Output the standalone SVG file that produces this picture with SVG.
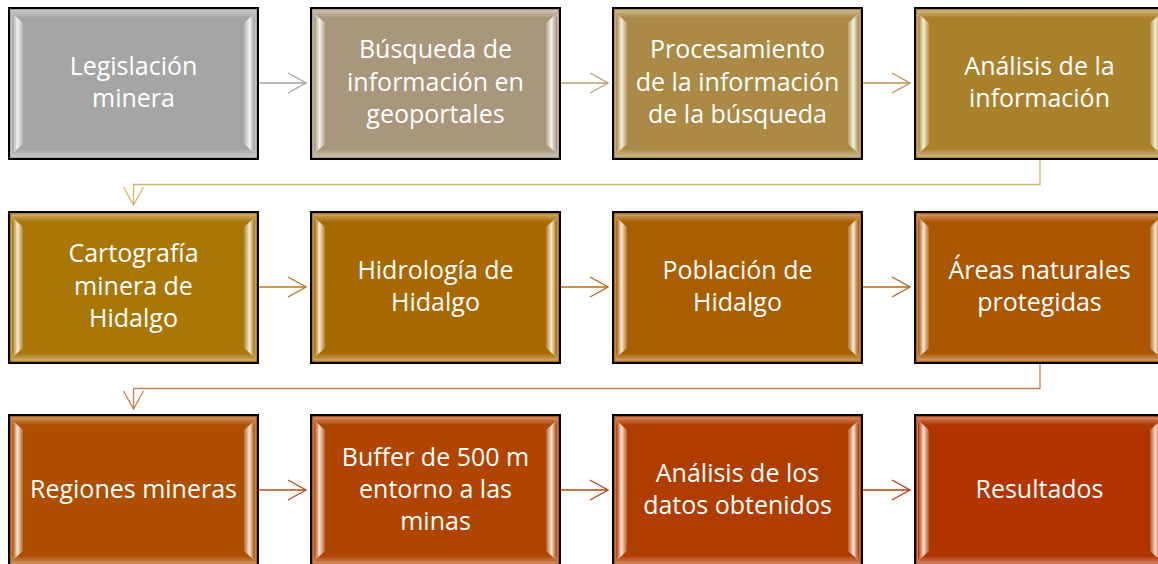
<svg xmlns="http://www.w3.org/2000/svg" xmlns:xlink="http://www.w3.org/1999/xlink" width="1158" height="564" viewBox="0 0 1158 564">
<style>
.lbl{font-family:"Open Sans","Liberation Sans",sans-serif;font-size:25px;fill:#ffffff;text-anchor:middle}
.con{fill:none;stroke-width:1.3}
</style>
<defs>
<linearGradient id="gl" x1="0" y1="0" x2="1" y2="0">
<stop offset="0" stop-color="#fff" stop-opacity="0.1"/>
<stop offset="0.45" stop-color="#fff" stop-opacity="0.85"/>
<stop offset="1" stop-color="#fff" stop-opacity="0.15"/>
</linearGradient>
<linearGradient id="gr" x1="1" y1="0" x2="0" y2="0">
<stop offset="0" stop-color="#fff" stop-opacity="0.1"/>
<stop offset="0.45" stop-color="#fff" stop-opacity="0.85"/>
<stop offset="1" stop-color="#fff" stop-opacity="0.15"/>
</linearGradient>
<linearGradient id="gt" x1="0" y1="0" x2="0" y2="1">
<stop offset="0" stop-color="#fff" stop-opacity="0.35"/>
<stop offset="1" stop-color="#fff" stop-opacity="0"/>
</linearGradient>
<linearGradient id="gb" x1="0" y1="1" x2="0" y2="0">
<stop offset="0" stop-color="#fff" stop-opacity="0.35"/>
<stop offset="1" stop-color="#fff" stop-opacity="0"/>
</linearGradient>
<g id="bevel">
<rect x="3" y="3" width="243" height="7" fill="url(#gt)"/>
<rect x="3" y="141" width="243" height="7" fill="url(#gb)"/>
<polygon points="4,6 14,15 14,136 4,145" fill="url(#gl)"/>
<polygon points="245,6 235,15 235,136 245,145" fill="url(#gr)"/>
<rect x="2.5" y="2.5" width="244" height="146" fill="none" stroke="#fff" stroke-opacity="0.3" stroke-width="1.5"/>
<rect x="0" y="0" width="249" height="151" fill="none" stroke="#000" stroke-width="2"/>
</g>
<marker id="ah" viewBox="0 0 20 22" refX="19" refY="11" markerWidth="20" markerHeight="22" markerUnits="userSpaceOnUse" orient="auto">
<path d="M1,1 L19,11 L1,21" fill="none" stroke="context-stroke" stroke-width="1.3"/>
</marker>
</defs>

<g id="connectors">
<path class="con" d="M258,83 H306" stroke="#A5A5A5" marker-end="url(#ah)"/>
<path class="con" d="M561,83 H608" stroke="#B5A27E" marker-end="url(#ah)"/>
<path class="con" d="M862,83 H910" stroke="#B8904A" marker-end="url(#ah)"/>
<path class="con" d="M1040,159 V184.5 H133.5 V205" stroke="#D6B470" marker-end="url(#ah)"/>
<path class="con" d="M258,287 H306" stroke="#B57820" marker-end="url(#ah)"/>
<path class="con" d="M561,287 H608" stroke="#B36C1A" marker-end="url(#ah)"/>
<path class="con" d="M862,287 H910" stroke="#B5661E" marker-end="url(#ah)"/>
<path class="con" d="M1040,363 V388.5 H133.5 V409" stroke="#C88050" marker-end="url(#ah)"/>
<path class="con" d="M258,490 H306" stroke="#B54E14" marker-end="url(#ah)"/>
<path class="con" d="M561,490 H608" stroke="#B44612" marker-end="url(#ah)"/>
<path class="con" d="M862,490 H910" stroke="#B43E10" marker-end="url(#ah)"/>
</g>

<g id="n1" transform="translate(9,8)"><rect width="249" height="151" fill="#A5A5A5"/><use xlink:href="#bevel"/>
<text class="lbl" x="124.5" y="67">Legislación</text><text class="lbl" x="124.5" y="99">minera</text></g>
<g id="n2" transform="translate(311,8)"><rect width="249" height="151" fill="#A8977A"/><use xlink:href="#bevel"/>
<text class="lbl" x="124.5" y="50">Búsqueda de</text><text class="lbl" x="124.5" y="83">información en</text><text class="lbl" x="124.5" y="115">geoportales</text></g>
<g id="n3" transform="translate(613,8)"><rect width="249" height="151" fill="#AB8A45"/><use xlink:href="#bevel"/>
<text class="lbl" x="124.5" y="50">Procesamiento</text><text class="lbl" x="124.5" y="83">de la información</text><text class="lbl" x="124.5" y="115">de la búsqueda</text></g>
<g id="n4" transform="translate(915,8)"><rect width="249" height="151" fill="#AA812B"/><use xlink:href="#bevel"/>
<text class="lbl" x="124.5" y="67">Análisis de la</text><text class="lbl" x="124.5" y="99">información</text></g>

<g id="n5" transform="translate(9,212)"><rect width="249" height="151" fill="#A97608"/><use xlink:href="#bevel"/>
<text class="lbl" x="124.5" y="50">Cartografía</text><text class="lbl" x="124.5" y="83">minera de</text><text class="lbl" x="124.5" y="115">Hidalgo</text></g>
<g id="n6" transform="translate(311,212)"><rect width="249" height="151" fill="#AA6900"/><use xlink:href="#bevel"/>
<text class="lbl" x="124.5" y="67">Hidrología de</text><text class="lbl" x="124.5" y="99">Hidalgo</text></g>
<g id="n7" transform="translate(613,212)"><rect width="249" height="151" fill="#A95E00"/><use xlink:href="#bevel"/>
<text class="lbl" x="124.5" y="67">Población de</text><text class="lbl" x="124.5" y="99">Hidalgo</text></g>
<g id="n8" transform="translate(915,212)"><rect width="249" height="151" fill="#AB5600"/><use xlink:href="#bevel"/>
<text class="lbl" x="124.5" y="67">Áreas naturales</text><text class="lbl" x="124.5" y="99">protegidas</text></g>

<g id="n9" transform="translate(9,415)"><rect width="249" height="151" fill="#AE4F00"/><use xlink:href="#bevel"/>
<text class="lbl" x="124.5" y="83">Regiones mineras</text></g>
<g id="n10" transform="translate(311,415)"><rect width="249" height="151" fill="#AF4500"/><use xlink:href="#bevel"/>
<text class="lbl" x="124.5" y="51">Buffer de 500 m</text><text class="lbl" x="124.5" y="83">entorno a las</text><text class="lbl" x="124.5" y="115">minas</text></g>
<g id="n11" transform="translate(613,415)"><rect width="249" height="151" fill="#B03D00"/><use xlink:href="#bevel"/>
<text class="lbl" x="124.5" y="67">Análisis de los</text><text class="lbl" x="124.5" y="99">datos obtenidos</text></g>
<g id="n12" transform="translate(915,415)"><rect width="249" height="151" fill="#B23500"/><use xlink:href="#bevel"/>
<text class="lbl" x="124.5" y="83">Resultados</text></g>
</svg>
